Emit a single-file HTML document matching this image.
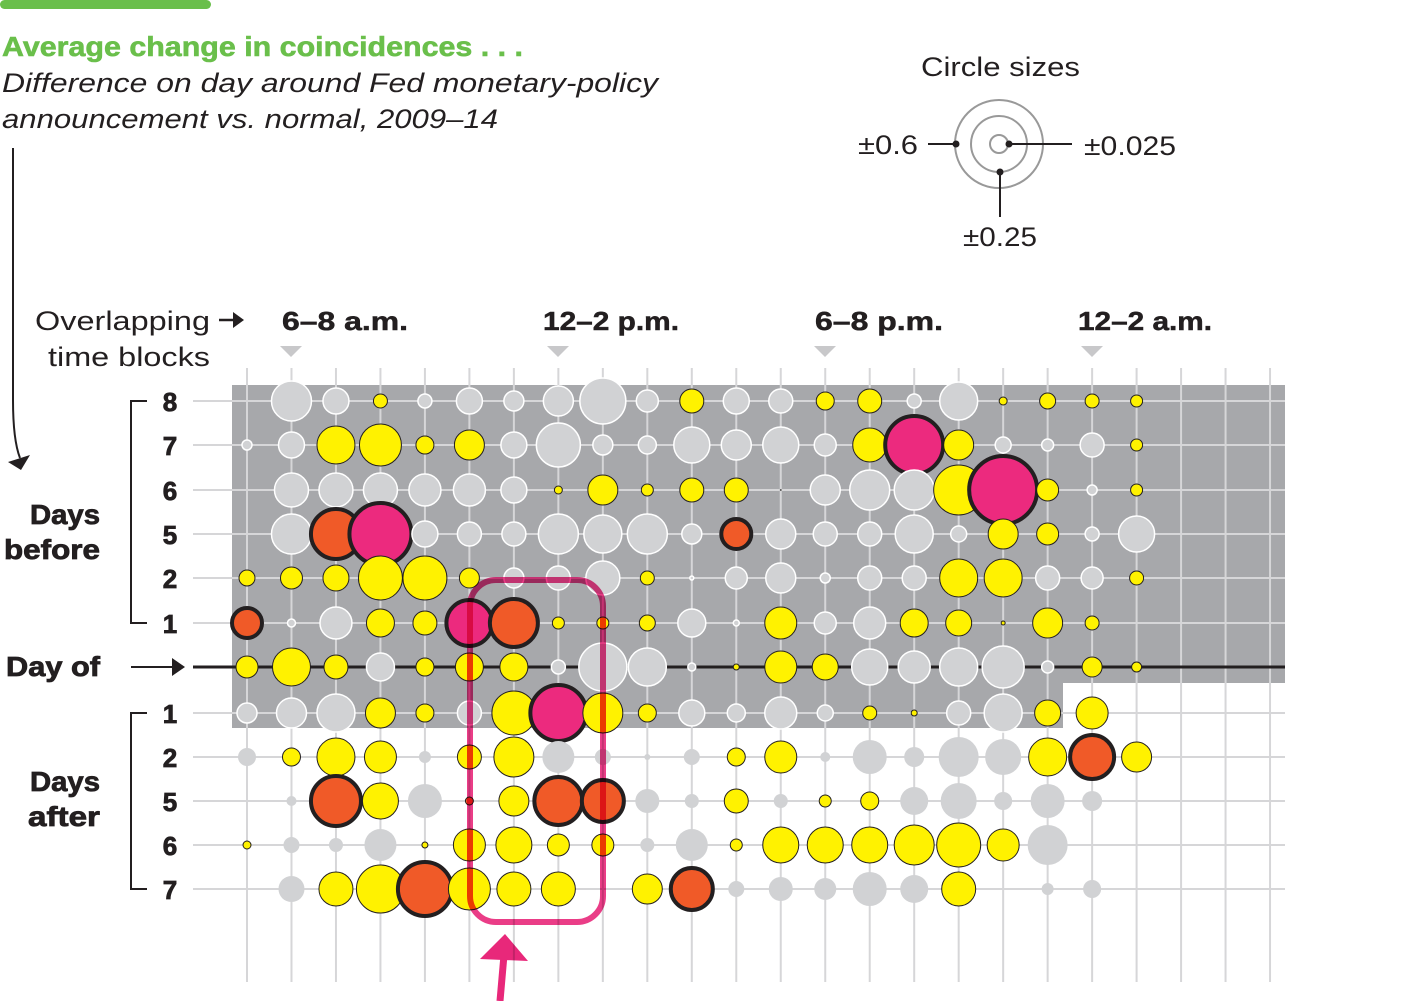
<!DOCTYPE html>
<html><head><meta charset="utf-8"><style>
html,body{margin:0;padding:0;background:#fff}
svg{display:block}
text{font-family:"Liberation Sans",sans-serif}
</style></head><body>
<svg id="s" width="1413" height="1001" viewBox="0 0 1413 1001" xmlns="http://www.w3.org/2000/svg">
<rect x="0" y="0" width="211" height="9" rx="4.5" fill="#6abf4b"/>
<text x="2" y="56" font-size="28" font-weight="bold" fill="#6abf4b" stroke="#6abf4b" stroke-width="0.6" textLength="521" lengthAdjust="spacingAndGlyphs">Average change in coincidences . . .</text>
<text x="2" y="92" font-size="27" font-style="italic" fill="#231f20" textLength="656" lengthAdjust="spacingAndGlyphs">Difference on day around Fed monetary-policy</text>
<text x="2" y="128" font-size="27" font-style="italic" fill="#231f20" textLength="496" lengthAdjust="spacingAndGlyphs">announcement vs. normal, 2009–14</text>
<path d="M13,148 L13,400 Q13,440 20,458" fill="none" stroke="#231f20" stroke-width="2"/>
<polygon points="8,462 30,455 21,470" fill="#231f20"/>
<!-- legend -->
<text x="921" y="76" font-size="27" fill="#231f20" textLength="159" lengthAdjust="spacingAndGlyphs">Circle sizes</text>
<circle cx="999" cy="144" r="44" fill="none" stroke="#999" stroke-width="2"/>
<circle cx="999" cy="144" r="28" fill="none" stroke="#999" stroke-width="2"/>
<circle cx="999" cy="144" r="9" fill="none" stroke="#999" stroke-width="2"/>
<line x1="928" y1="144" x2="956" y2="144" stroke="#231f20" stroke-width="2"/>
<circle cx="956" cy="144" r="3.5" fill="#231f20"/>
<line x1="1009" y1="144" x2="1072" y2="144" stroke="#231f20" stroke-width="2"/>
<circle cx="1009" cy="144" r="3.5" fill="#231f20"/>
<line x1="1000" y1="172" x2="1000" y2="217" stroke="#231f20" stroke-width="2"/>
<circle cx="1000" cy="172" r="3.5" fill="#231f20"/>
<text x="858" y="154" font-size="27" fill="#231f20" textLength="60" lengthAdjust="spacingAndGlyphs">±0.6</text>
<text x="1084" y="155" font-size="27" fill="#231f20" textLength="92" lengthAdjust="spacingAndGlyphs">±0.025</text>
<text x="963" y="246" font-size="27" fill="#231f20" textLength="74" lengthAdjust="spacingAndGlyphs">±0.25</text>
<!-- column header -->
<text x="35" y="330" font-size="27" fill="#231f20" textLength="175" lengthAdjust="spacingAndGlyphs">Overlapping</text>
<line x1="219" y1="320" x2="238" y2="320" stroke="#231f20" stroke-width="2.5"/>
<polygon points="233,312 244,320 233,328" fill="#231f20"/>
<text x="48" y="366" font-size="27" fill="#231f20" textLength="162" lengthAdjust="spacingAndGlyphs">time blocks</text>
<g font-size="26" font-weight="bold" fill="#231f20" stroke="#231f20" stroke-width="0.5">
<text x="282" y="330" textLength="126" lengthAdjust="spacingAndGlyphs">6–8 a.m.</text>
<text x="543" y="330" textLength="136" lengthAdjust="spacingAndGlyphs">12–2 p.m.</text>
<text x="815" y="330" textLength="128" lengthAdjust="spacingAndGlyphs">6–8 p.m.</text>
<text x="1078" y="330" textLength="134" lengthAdjust="spacingAndGlyphs">12–2 a.m.</text>
</g>
<g fill="#c8c8ca">
<polygon points="280,346 302,346 291,357"/><polygon points="547,346 569,346 558,357"/>
<polygon points="814,346 836,346 825,357"/><polygon points="1081,346 1103,346 1092,357"/>
</g>
<!-- grey area -->
<path d="M232,385 H1285 V683 H1063 V728 H232 Z" fill="#a7a8ab"/>
<g id="grid"></g>
<g id="dots"></g>
<!-- labels -->
<g font-size="26" font-weight="bold" fill="#231f20" stroke="#231f20" stroke-width="0.8" text-anchor="middle" id="rl"></g>
<path d="M147,401 H131 V623 H147" fill="none" stroke="#231f20" stroke-width="2"/>
<path d="M147,713 H131 V889 H147" fill="none" stroke="#231f20" stroke-width="2"/>
<g font-size="28" font-weight="bold" fill="#231f20" stroke="#231f20" stroke-width="0.8">
<text x="30" y="524" textLength="70" lengthAdjust="spacingAndGlyphs">Days</text>
<text x="4" y="559" textLength="96" lengthAdjust="spacingAndGlyphs">before</text>
<text x="6" y="676" textLength="94" lengthAdjust="spacingAndGlyphs">Day of</text>
<text x="30" y="791" textLength="70" lengthAdjust="spacingAndGlyphs">Days</text>
<text x="28" y="826" textLength="72" lengthAdjust="spacingAndGlyphs">after</text>
</g>
<line x1="131" y1="667" x2="176" y2="667" stroke="#231f20" stroke-width="2"/>
<polygon points="172,658 185,667 172,676" fill="#231f20"/>
<!-- pink highlight -->
<g style="mix-blend-mode:multiply">
<rect x="470" y="580" width="133" height="342" rx="26" fill="none" stroke="#e8287a" stroke-width="6" opacity="0.9"/>
<line x1="500" y1="1001" x2="504" y2="955" stroke="#e8287a" stroke-width="7"/>
<polygon points="480,959 505,934 528,961" fill="#e8287a"/>
</g>
</svg>
<script>
var xs=[],i;for(i=0;i<24;i++)xs.push(247+i*44.48);
var ys=[401,445,490,534,578,623,667,713,757,801,845,889];
var labels=["8","7","6","5","2","1","","1","2","5","6","7"];
var NS="http://www.w3.org/2000/svg";
function el(p,t,a){var e=document.createElementNS(NS,t);for(var k in a)e.setAttribute(k,a[k]);p.appendChild(e);return e;}
var grid=document.getElementById('grid');
xs.forEach(function(x){
 el(grid,'line',{x1:x,y1:368,x2:x,y2:982,stroke:'#d6d6d8','stroke-width':2});
});
ys.forEach(function(y,j){
 if(j==6)return;
 el(grid,'line',{x1:193,y1:y,x2:1285,y2:y,stroke:'#d6d6d8','stroke-width':2});
});
el(grid,'line',{x1:193,y1:667,x2:1285,y2:667,stroke:'#231f20','stroke-width':3});
var rl=document.getElementById('rl');
labels.forEach(function(l,j){if(l){var t=el(rl,'text',{x:170,y:ys[j]+10});t.textContent=l;}});
var D=[
"- g20 g13 y7 g7 g13 g10 g15 g23 g11 y12 g13 g12 y9 y12 g7 g19 y4 y8 y7 y6",
"g5 g13 y19 y21 y9 y15 g13 g22 g10 g9 g18 g15 g18 g11 y17 p29 y15 g8 g6 g12 y6",
"- g17 g17 g17 g16 g16 g13 y4 y15 y6 y12 y12 d1 g15 g20 g20 y25 p34 y11 g5 y6",
"- g20 o25 p31 g13 g12 g12 g20 g19 g20 g10 o15 g15 g12 g12 g19 g8 y15 y11 g7 g18",
"y8 y11 y13 y22 y22 y10 g10 g12 g17 y7 g2 g11 g15 g5 g12 g12 y19 y19 g12 g11 y7",
"o15 g4 g16 y14 y12 p23 o24 y6 y6 y8 g14 g3 y16 g11 g16 y14 y13 y2 y15 y7",
"y11 y19 y12 g14 y9 y14 y14 g7 g24 g19 g4 y3 y16 y13 g18 g16 g19 g21 g6 y10 y5",
"g10 g15 g19 y15 y9 g12 y22 p28 y20 y9 g13 g9 g16 g8 y7 y3 g12 g19 y13 y16",
"g9 y9 y19 y16 g6 y12 y20 g16 g8 g3 g8 y9 y16 g5 g17 g10 g20 g18 y19 o22 y15",
"- g5 o25 y18 g17 o4 y15 o24 o21 g12 g7 y12 g7 y6 y9 g14 g18 g9 g17 g10",
"y4 g8 g7 g16 y3 y16 y18 y11 y11 g7 g16 y6 y18 y18 y18 y20 y22 y16 g20",
"- g13 y17 y24 o27 y21 y17 y17 - y15 o21 g8 g12 g11 g17 g14 y17 - g6 g9"
];
var dots=document.getElementById('dots');
function inGrey(x,y){return (y<=683&&y>=385)||(y<=728&&x<1063);}
D.forEach(function(row,j){
 row.split(' ').forEach(function(tk,c){
  if(tk=='-')return;
  var t=tk[0],r=+tk.slice(1),x=xs[c],y=ys[j],a;
  if(t=='g'){a=inGrey(x,y)?{fill:'#d1d2d4',stroke:'#fff','stroke-width':1.5}:{fill:'#d1d2d4'};}
  else if(t=='y')a={fill:'#fff200',stroke:'#231f20','stroke-width':1};
  else if(t=='o')a={fill:'#f05a28',stroke:'#231f20','stroke-width':r>6?4:1};
  else if(t=='p')a={fill:'#ec2a7e',stroke:'#231f20','stroke-width':4};
  else a={fill:'#555'};
  a.cx=x;a.cy=y;a.r=r;el(dots,'circle',a);
 });
});
</script>
</body></html>
